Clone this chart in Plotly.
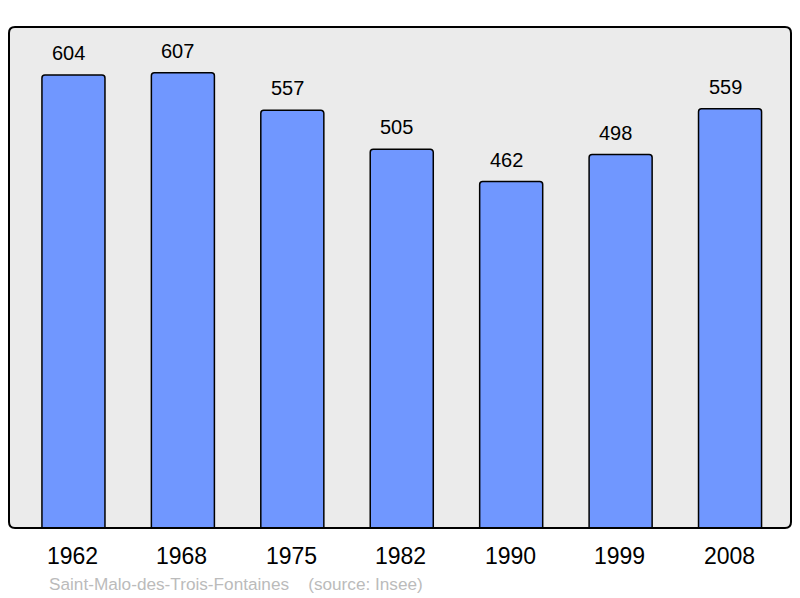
import plotly.graph_objects as go

years = ["1962", "1968", "1975", "1982", "1990", "1999", "2008"]
population = [604, 607, 557, 505, 462, 498, 559]
footer_text = "Saint-Malo-des-Trois-Fontaines&nbsp;&nbsp;&nbsp;&nbsp;(source: Insee)"

# page body has an 8px margin; figure sized to fit the 800x598 window
W, H = 792, 590
ml, mr, mt, mb = 1, 9, 19, 70
pw, ph = W - ml - mr, H - mt - mb

FONT = "Liberation Sans, Arial, sans-serif"

fig = go.Figure()
fig.add_trace(go.Bar(
    x=years, y=population, width=0.576,
    marker=dict(color="#7097FF", line=dict(color="#000000", width=1.5), cornerradius=3),
    hoverinfo="skip",
))

# rounded frame in paper coordinates
r = 6
rx, ry = r / pw, r / ph
path = (f"M {rx},0 L {1-rx},0 Q 1,0 1,{ry} L 1,{1-ry} Q 1,1 {1-rx},1 "
        f"L {rx},1 Q 0,1 0,{1-ry} L 0,{ry} Q 0,0 {rx},0 Z")
fig.add_shape(type="path", path=path, xref="paper", yref="paper",
              fillcolor="#EBEBEB", line=dict(width=0), layer="below")
fig.add_shape(type="path", path=path, xref="paper", yref="paper",
              fillcolor="rgba(0,0,0,0)", line=dict(color="#000000", width=2), layer="above")

annotations = []
for i, (yr, v) in enumerate(zip(years, population)):
    annotations.append(dict(x=i, y=v, xref="x", yref="y", text=str(v), showarrow=False,
                            yanchor="middle", yshift=22, xshift=-5,
                            font=dict(family=FONT, size=20, color="#000")))
    annotations.append(dict(x=i, y=0, xref="x", yref="y", text=yr, showarrow=False,
                            yanchor="middle", yshift=-28, xshift=-1,
                            font=dict(family=FONT, size=23, color="#000")))
annotations.append(dict(x=(47 - 8 - ml) / pw, y=-(584 - 8 - (H - mb)) / ph,
                        xref="paper", yref="paper", text=footer_text, showarrow=False,
                        xanchor="left", yanchor="middle",
                        font=dict(family=FONT, size=17.2, color="#BBBBBB")))

fig.update_layout(
    width=W, height=H,
    margin=dict(l=ml, r=mr, t=mt, b=mb, pad=0),
    paper_bgcolor="#FFFFFF", plot_bgcolor="rgba(0,0,0,0)",
    showlegend=False,
    xaxis=dict(type="category", range=[-0.589, 6.557], showticklabels=False, showgrid=False,
               zeroline=False, showline=False, ticks=""),
    yaxis=dict(range=[0, ph / 0.75], showticklabels=False, showgrid=False, zeroline=False,
               showline=False, ticks=""),
    annotations=annotations,
)

fig.write_html("out.html")
